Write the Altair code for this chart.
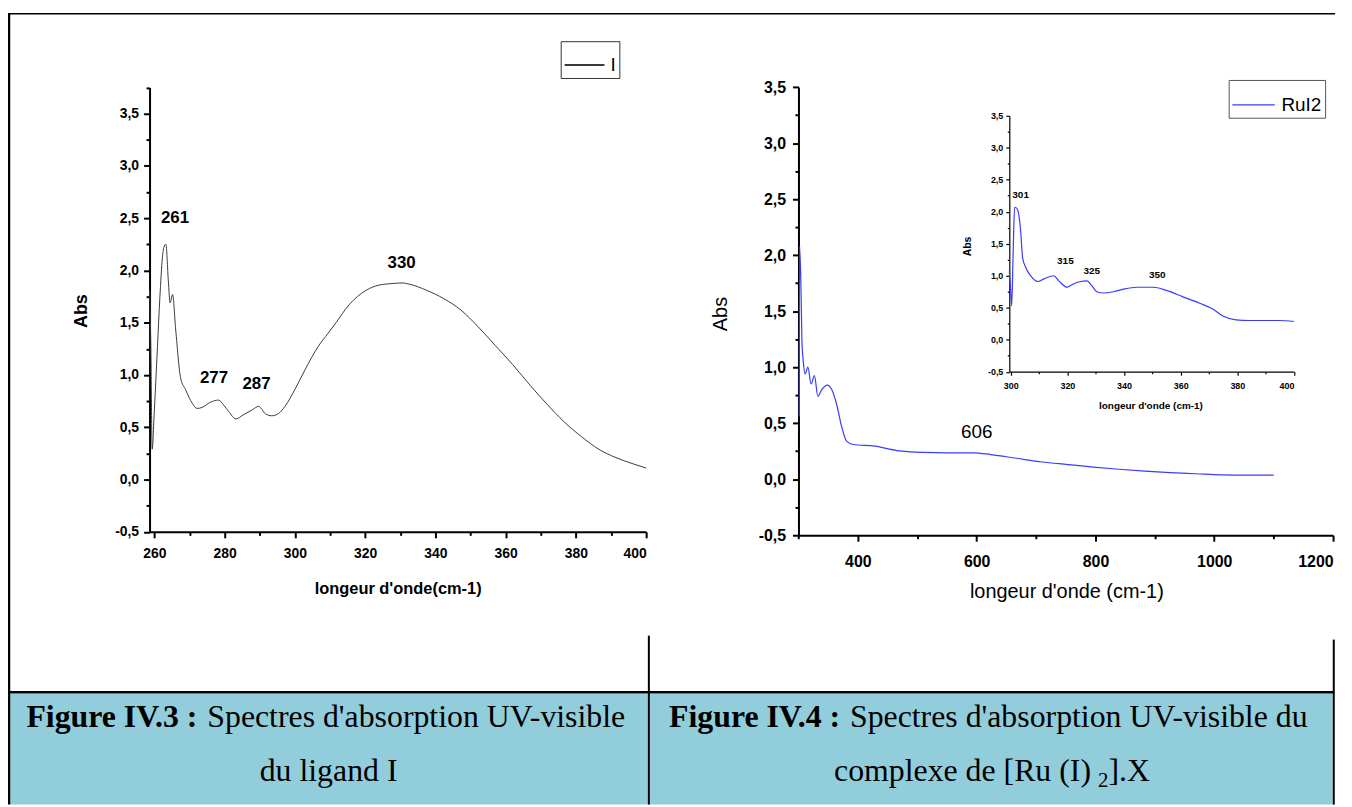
import altair as alt
import pandas as pd

# ---------------- data ----------------
lig_x = [258.7, 259.0, 259.4, 260.0, 260.9, 261.6, 262.3, 262.7, 263.3, 264.0, 264.5, 265.2,
         266.1, 267.5, 268.9, 270.8, 272.2, 273.6, 276.0, 278.3, 279.8, 281.2, 283.2, 285.4,
         287.8, 289.7, 291.6, 293.4, 295.3, 297.2, 300.0, 302.9, 306.6, 309.5, 311.7, 315.4,
         320.3, 324.0, 328.0, 330.5, 333.0, 337.5, 342.4, 347.3, 352.2, 357.1, 362.0, 367.0,
         371.8, 376.7, 381.6, 386.5, 391.4, 396.3, 400.0]
lig_y = [1.81, 1.30, 0.29, 0.65, 1.27, 1.75, 2.12, 2.22, 2.25, 1.90, 1.69, 1.77,
         1.43, 0.97, 0.86, 0.73, 0.68, 0.69, 0.74, 0.76, 0.71, 0.65, 0.58, 0.62,
         0.665, 0.70, 0.63, 0.61, 0.63, 0.70, 0.86, 1.05, 1.27, 1.40, 1.50, 1.67,
         1.81, 1.86, 1.875, 1.88, 1.865, 1.81, 1.73, 1.62, 1.46, 1.28, 1.10, 0.90,
         0.72, 0.55, 0.41, 0.29, 0.21, 0.15, 0.11]
lig_peak_text = ["261", "277", "287", "330"]
lig_peak_x = [265.9, 277.0, 289.1, 330.4]
lig_peak_y = [2.50, 0.967, 0.91, 2.07]

ru_x = [301.3, 301.9, 304.0, 305.8, 308.5, 311.3, 315.8, 321.3, 326.9, 332.6, 339.2, 348.6,
        356.0, 364.4, 372.7, 381.1, 392.1, 428.5, 466.0, 509.0, 552.0, 595.0, 624.0, 667.0,
        710.0, 753.5, 796.6, 839.7, 882.8, 926.0, 969.0, 1012.0, 1055.0, 1100.0]
ru_y = [0.56, 2.08, 1.77, 1.24, 1.03, 0.94, 1.00, 0.85, 0.925, 0.74, 0.80, 0.84,
        0.80, 0.665, 0.47, 0.34, 0.31, 0.295, 0.256, 0.24, 0.236, 0.236, 0.22, 0.187,
        0.154, 0.131, 0.108, 0.089, 0.072, 0.059, 0.049, 0.039, 0.036, 0.036]
ru_peak_text = ["606"]
ru_peak_x = [600.2]
ru_peak_y = [0.42]

ins_x = [299.5, 300.0, 300.35, 300.8, 301.05, 301.4, 302.0, 302.6, 303.5, 304.2, 305.3, 307.0,
         309.7, 311.7, 315.2, 317.0, 319.9, 321.6, 324.6, 326.9, 328.7, 330.4, 332.7, 336.3,
         339.8, 344.4, 350.3, 355.0, 360.8, 366.7, 371.3, 374.9, 379.5, 384.2, 394.7, 400.0]
ins_y = [1.08, 0.77, 0.53, 1.26, 1.70, 2.07, 2.06, 2.01, 1.70, 1.28, 1.13, 1.00,
         0.91, 0.95, 1.00, 0.92, 0.82, 0.86, 0.91, 0.92, 0.84, 0.75, 0.73, 0.75,
         0.79, 0.82, 0.82, 0.77, 0.67, 0.57, 0.48, 0.37, 0.31, 0.30, 0.30, 0.285]
ins_peak_text = ["301", "315", "325", "350"]
ins_peak_x = [303.5, 319.3, 328.6, 351.7]
ins_peak_y = [2.26, 1.23, 1.07, 1.01]

abs_ticks = [-0.5, 0.0, 0.5, 1.0, 1.5, 2.0, 2.5, 3.0, 3.5]
abs_minor = [-0.25, 0.25, 0.75, 1.25, 1.75, 2.25, 2.75, 3.25]
lig_abs_minor = abs_minor + [3.75]
lig_xticks = [260, 280, 300, 320, 340, 360, 380, 400]
lig_xminor = [270, 290, 310, 330, 350, 370, 390]
ru_xticks = [400, 600, 800, 1000, 1200]
ru_xminor = [300, 500, 700, 900, 1100]
ins_xticks = [300, 320, 340, 360, 380, 400]
ins_xminor = [310, 330, 350, 370, 390]

legend_lig = ["I"]
legend_ru = ["RuI2"]
cap_bold = ["Figure IV.3 :", "Figure IV.4 :"]
cap_rest = ["Spectres d'absorption UV-visible", "Spectres d'absorption UV-visible du"]
cap_left2 = "du ligand I"
cap_right2 = ["complexe de [Ru (I)", "2", "].X"]

# ---------------- layout ----------------
W, H = 1344, 799
SANS = "Liberation Sans"
SERIF = "Liberation Serif"
BLUE = "#3b3bff"
CELL = "#92CDDC"
COMMA = "(datum.value < 0 ? '-' : '') + replace(format(abs(datum.value), '.1f'), '.', ',')"


def axis(orient, offset, values, size, fs=12, pad=4, labels=True, expr=None, title=None,
         tx=0, ty=0, tfs=12, tweight="bold", width=2):
    kw = dict(orient=orient, offset=offset, values=values, grid=False, domain=labels,
              domainColor="black", domainWidth=width, tickColor="black", tickWidth=width,
              tickSize=size, labels=labels)
    if labels:
        kw.update(labelFont=SANS, labelFontSize=fs, labelFontWeight="bold",
                  labelColor="black", labelPadding=pad, labelOverlap=False)
        if expr:
            kw["labelExpr"] = expr
        else:
            kw["format"] = "d"
    if title:
        kw.update(title=title, titleFont=SANS, titleFontSize=tfs, titleFontWeight=tweight,
                  titleColor="black", titleX=tx, titleY=ty, titleBaseline="middle",
                  titleAlign="center")
    else:
        kw["title"] = None
    return alt.Axis(**kw)


def sc(domain, rng):
    return alt.Scale(domain=domain, range=rng, nice=False, zero=False)


one = pd.DataFrame({"a": [0]})


def rule(x1, y1, x2, y2, w):
    return alt.Chart(one).mark_rule(color="black", strokeWidth=w).encode(
        x=alt.value(x1), x2=alt.value(x2), y=alt.value(y1), y2=alt.value(y2))


def rect(x1, y1, x2, y2):
    return alt.Chart(one).mark_rect(color=CELL).encode(
        x=alt.value(x1), x2=alt.value(x2), y=alt.value(y1), y2=alt.value(y2))


def text(t, x, y, size, weight="normal", align="left"):
    return alt.Chart(one).mark_text(text=t, font=SERIF, fontSize=size, fontWeight=weight,
                                    align=align, baseline="alphabetic", color="black").encode(
        x=alt.value(x), y=alt.value(y))


layers = []

# table decorations
layers += [rect(2, 687.5, 643.7, 799), rect(645.7, 687.5, 1332.7, 799)]
layers += [rule(0, 3.5, 1335, 3.5, 1.5), rule(1, 3, 1, 799, 2.5), rule(0, 686, 1334, 686, 2.5),
           rule(644.7, 629, 644.7, 799, 2), rule(1333.7, 633, 1333.7, 799, 2)]
layers += [text(cap_bold[0], 18.5, 721, 32, "bold"), text(cap_rest[0], 200.5, 721, 32),
           text(cap_left2, 322.5, 775, 32, align="center"),
           text(cap_bold[1], 665, 721, 32, "bold"), text(cap_rest[1], 847, 721, 32),
           text(cap_right2[0], 831, 775, 32), text(cap_right2[1], 1096.5, 781, 21),
           text(cap_right2[2], 1107, 775, 32)]

# ---------- left panel: ligand I ----------
LX = ([258.65, 400], [142.4, 642.0])
LY = ([-0.5, 3.75], [524.6, 77.5])
lig_df = pd.DataFrame({"x": lig_x, "y": lig_y, "s": legend_lig * len(lig_x)})
layers.append(alt.Chart(lig_df).mark_line(strokeWidth=1, interpolate="monotone").encode(
    x=alt.X("x:Q", scale=sc(*LX), axis=axis("bottom", 524.6 - H, lig_xticks, 6, 14, 9,
                                           title="longeur d'onde(cm-1)", tx=392, ty=57.4, tfs=16.5)),
    y=alt.Y("y:Q", scale=sc(*LY), axis=axis("left", -142.4, abs_ticks, 6, 14, 5, expr=COMMA,
                                           title="Abs", tx=-68.4, ty=302, tfs=18)),
    color=alt.Color("s:N", scale=alt.Scale(domain=legend_lig, range=["#3a3a3a"]),
                    legend=alt.Legend(orient="none", legendX=556, legendY=31, title=None,
                                      symbolType="stroke", symbolSize=1600, symbolStrokeWidth=2,
                                      labelFont=SANS, labelFontSize=19, labelColor="black",
                                      labelOffset=5, padding=3, strokeColor="#333",
                                      fillColor="white")),
))
layers.append(alt.Chart(lig_df).mark_point(opacity=0).encode(
    x=alt.X("x:Q", scale=sc(*LX), axis=axis("bottom", 524.6 - H, lig_xminor, 3.5, labels=False)),
    y=alt.Y("y:Q", scale=sc(*LY), axis=axis("left", -142.4, lig_abs_minor, 3.5, labels=False)),
))
layers.append(alt.Chart(pd.DataFrame({"x": lig_peak_x, "y": lig_peak_y, "t": lig_peak_text}))
              .mark_text(font=SANS, fontSize=17, fontWeight="bold", color="black").encode(
    x=alt.X("x:Q", scale=sc(*LX), axis=None),
    y=alt.Y("y:Q", scale=sc(*LY), axis=None), text="t:N"))

# ---------- right panel: complex ----------
RX = ([300, 1200], [795.2, 1333.0])
RY = ([-0.5, 3.5], [528.0, 77.2])
ru_df = pd.DataFrame({"x": ru_x, "y": ru_y, "s": legend_ru * len(ru_x)})
layers.append(alt.Chart(ru_df).mark_line(strokeWidth=1.2, interpolate="monotone").encode(
    x=alt.X("x:Q", scale=sc(*RX), axis=axis("bottom", 528.0 - H, ru_xticks, 6, 16, 12,
                                           title="longeur d'onde (cm-1)", tx=1064.7, ty=56.7,
                                           tfs=20, tweight="normal")),
    y=alt.Y("y:Q", scale=sc(*RY), axis=axis("left", -795.2, abs_ticks, 6, 16, 7, expr=COMMA,
                                           title="Abs", tx=-78.2, ty=305, tfs=20, tweight="normal")),
    color=alt.Color("s:N", scale=alt.Scale(domain=legend_ru, range=[BLUE]),
                    legend=alt.Legend(orient="none", legendX=1228, legendY=70, title=None,
                                      symbolType="stroke", symbolSize=1820, symbolStrokeWidth=1.3,
                                      labelFont=SANS, labelFontSize=19, labelColor="black",
                                      labelOffset=6, padding=3, strokeColor="#555",
                                      fillColor="white")),
))
layers.append(alt.Chart(ru_df).mark_point(opacity=0).encode(
    x=alt.X("x:Q", scale=sc(*RX), axis=axis("bottom", 528.0 - H, ru_xminor, 3.5, labels=False)),
    y=alt.Y("y:Q", scale=sc(*RY), axis=axis("left", -795.2, abs_minor, 3.5, labels=False)),
))
layers.append(alt.Chart(pd.DataFrame({"x": ru_peak_x, "y": ru_peak_y, "t": ru_peak_text}))
              .mark_text(font=SANS, fontSize=19, color="black").encode(
    x=alt.X("x:Q", scale=sc(*RX), axis=None),
    y=alt.Y("y:Q", scale=sc(*RY), axis=None), text="t:N"))

# ---------- inset ----------
IX = ([299.5, 400], [1007.3, 1293.7])
IY = ([-0.5, 3.5], [363.5, 106.0])
ins_df = pd.DataFrame({"x": ins_x, "y": ins_y})
layers.append(alt.Chart(ins_df).mark_line(strokeWidth=1.2, color=BLUE, interpolate="monotone").encode(
    x=alt.X("x:Q", scale=sc(*IX), axis=axis("bottom", 363.5 - H, ins_xticks, 3.5, 9, 6,
                                           title="longeur d'onde (cm-1)", tx=1149.3, ty=33.8,
                                           tfs=10, width=1.2)),
    y=alt.Y("y:Q", scale=sc(*IY), axis=axis("left", -1007.3, abs_ticks, 3.5, 9, 3, expr=COMMA,
                                           title="Abs", tx=-42, ty=237, tfs=10.5, width=1.2)),
))
layers.append(alt.Chart(ins_df).mark_point(opacity=0).encode(
    x=alt.X("x:Q", scale=sc(*IX), axis=axis("bottom", 363.5 - H, ins_xminor, 2, labels=False, width=1.2)),
    y=alt.Y("y:Q", scale=sc(*IY), axis=axis("left", -1007.3, abs_minor, 2, labels=False, width=1.2)),
))
layers.append(alt.Chart(pd.DataFrame({"x": ins_peak_x, "y": ins_peak_y, "t": ins_peak_text}))
              .mark_text(font=SANS, fontSize=10, fontWeight="bold", color="black").encode(
    x=alt.X("x:Q", scale=sc(*IX), axis=None),
    y=alt.Y("y:Q", scale=sc(*IY), axis=None), text="t:N"))

chart = (alt.layer(*layers)
         .resolve_scale(x="independent", y="independent", color="independent")
         .resolve_axis(x="independent", y="independent")
         .resolve_legend(color="independent")
         .properties(width=W, height=H, padding=0, background="white",
                     autosize=alt.AutoSizeParams(type="none"))
         .configure_view(strokeWidth=0))

chart.save("out.html", embed_options={"renderer": "svg", "actions": False})
